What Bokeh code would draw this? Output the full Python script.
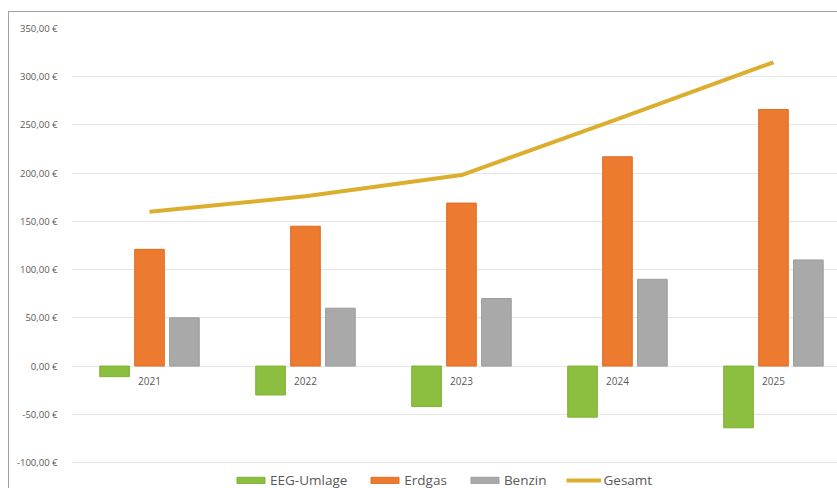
from bokeh.plotting import figure
from bokeh.models import FixedTicker, Legend, LegendItem, ColumnDataSource
from bokeh.core.properties import value
from bokeh.embed import file_html
from bokeh.resources import INLINE

years = ["2021", "2022", "2023", "2024", "2025"]
eeg = [-11, -30, -42, -53, -64]
erdgas = [121, 145, 169, 217, 266]
benzin = [50, 60, 70, 90, 110]
gesamt = [160, 176, 198, 256, 315]
y_ticks = [-100, -50, 0, 50, 100, 150, 200, 250, 300, 350]
y_tick_labels = ["-100,00 €", "-50,00 €", "0,00 €", "50,00 €", "100,00 €", "150,00 €",
                 "200,00 €", "250,00 €", "300,00 €", "350,00 €"]

xs = list(range(len(years)))
off = 0.224
bw = 0.19

p = figure(width=829, height=477, output_backend="svg", toolbar_location=None,
           x_range=(-0.5, 4.417), y_range=(-128, 350),
           min_border_left=62, min_border_right=0, min_border_top=16, min_border_bottom=0)
p.margin = (11, 0, 0, 8)
p.styles = {"border-left": "1px solid #a0a0a0", "border-top": "1px solid #a0a0a0"}
p.outline_line_color = None
p.background_fill_color = "white"
p.border_fill_color = "white"

r_eeg = p.vbar(x=[x - off for x in xs], top=eeg, bottom=0, width=bw,
               fill_color="#8cbf3f", line_color="#7fb135", line_width=1)
r_erd = p.vbar(x=xs, top=erdgas, bottom=0, width=bw,
               fill_color="#ec7a2f", line_color="#e06e25", line_width=1)
r_ben = p.vbar(x=[x + off for x in xs], top=benzin, bottom=0, width=bw,
               fill_color="#a9a9a9", line_color="#9c9c9c", line_width=1)
r_ges = p.line(x=xs, y=gesamt, line_color="#dcae2e", line_width=4)

src = ColumnDataSource(dict(x=xs, y=[0] * len(xs), t=years))
p.text(x="x", y="y", text="t", source=src, text_align="center", text_baseline="top",
       y_offset=11, text_font_size="10px", text_color="#595959",
       text_font=value("Open Sans"))

p.xaxis.visible = False
p.yaxis.ticker = FixedTicker(ticks=y_ticks)
p.yaxis.major_label_overrides = {t: l for t, l in zip(y_ticks, y_tick_labels)}
p.yaxis.axis_line_color = None
p.yaxis.major_tick_line_color = None
p.yaxis.minor_tick_line_color = None
p.yaxis.major_label_text_font_size = "9.5px"
p.yaxis.major_label_text_color = "#595959"
p.yaxis.major_label_text_font = "Open Sans"
p.yaxis.major_label_standoff = 8
p.xgrid.visible = False
p.ygrid.grid_line_color = "#e6e6e6"
p.ygrid.grid_line_width = 1

legend = Legend(items=[
    LegendItem(label="EEG-Umlage", renderers=[r_eeg]),
    LegendItem(label="Erdgas", renderers=[r_erd]),
    LegendItem(label="Benzin", renderers=[r_ben]),
    LegendItem(label="Gesamt", renderers=[r_ges]),
], orientation="horizontal", location=(162, 0))
legend.label_text_font_size = "13.5px"
legend.label_text_color = "#595959"
legend.label_text_font = "Open Sans"
legend.border_line_color = None
legend.background_fill_alpha = 0
legend.glyph_width = 35
legend.glyph_height = 8
legend.label_standoff = 2
legend.spacing = 20
legend.padding = 0
legend.margin = 0
p.add_layout(legend)

open("out.html", "w").write(file_html(p, INLINE))
